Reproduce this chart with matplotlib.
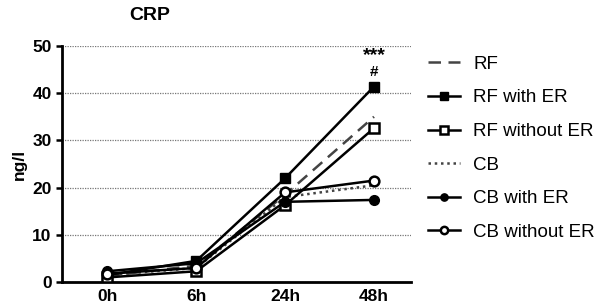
import numpy as np
import matplotlib.pyplot as plt

plt.rcParams["font.family"] = ["Liberation Sans", "DejaVu Sans"]
plt.rcParams["font.weight"] = "bold"

times = ["0h", "6h", "24h", "48h"]

rf = [1.3, 3.5, 18.5, 35.0]
rf_with_er = [1.5, 4.5, 22.0, 41.4]
rf_without_er = [1.0, 2.3, 16.3, 32.6]
cb = [1.5, 3.0, 18.0, 20.5]
cb_with_er = [2.3, 4.0, 17.0, 17.4]
cb_without_er = [1.8, 3.0, 19.0, 21.5]

x = np.arange(len(times))

fig = plt.figure(figsize=(5.97, 3.06), dpi=100)
ax = fig.add_axes([0.104, 0.078, 0.585, 0.772])

ms = 7
ax.plot(x, rf, color="#444444", ls=(0, (5, 3)), lw=1.8, label="RF", zorder=3)
ax.plot(x, rf_with_er, color="black", lw=1.8, marker="s", ms=ms,
        label="RF with ER", zorder=4)
ax.plot(x, rf_without_er, color="black", lw=1.8, marker="s", ms=ms,
        mfc="white", mew=1.8, label="RF without ER", zorder=4)
ax.plot(x, cb, color="#444444", ls=(0, (1, 1.5)), lw=1.8, label="CB", zorder=3)
ax.plot(x, cb_with_er, color="black", lw=1.8, marker="o", ms=ms,
        label="CB with ER", zorder=4)
ax.plot(x, cb_without_er, color="black", lw=1.8, marker="o", ms=ms,
        mfc="white", mew=1.8, label="CB without ER", zorder=4)

ax.text(3, 48.0, "***", ha="center", va="center", fontsize=14, fontweight="bold")
ax.text(3, 44.4, "#", ha="center", va="center", fontsize=11, fontweight="bold")

ax.set_xlim(-0.51, 3.42)
ax.set_ylim(0, 50)
ax.set_yticks([0, 10, 20, 30, 40, 50])
ax.set_xticks(x)
ax.set_xticklabels(times)
ax.tick_params(axis="both", labelsize=12.5, width=1.8, length=4)
ax.tick_params(axis="x", length=0, pad=5)
ax.yaxis.grid(True, ls=(0, (1, 1)), color="#777777", lw=0.9)
ax.set_axisbelow(True)
for s in ["top", "right"]:
    ax.spines[s].set_visible(False)
for s in ["left", "bottom"]:
    ax.spines[s].set_linewidth(2)

ax.set_ylabel("ng/l", fontsize=12.5, fontweight="bold", labelpad=4)
ax.set_title("CRP", fontsize=14, fontweight="bold", pad=19, x=0.25)

ax.legend(loc="upper left", bbox_to_anchor=(1.0, 1.03), frameon=False,
          handlelength=1.7, labelspacing=0.88, handletextpad=0.7,
          markerscale=0.75, prop={"weight": "normal", "size": 13.5})

fig.savefig("out.png", dpi=100)
